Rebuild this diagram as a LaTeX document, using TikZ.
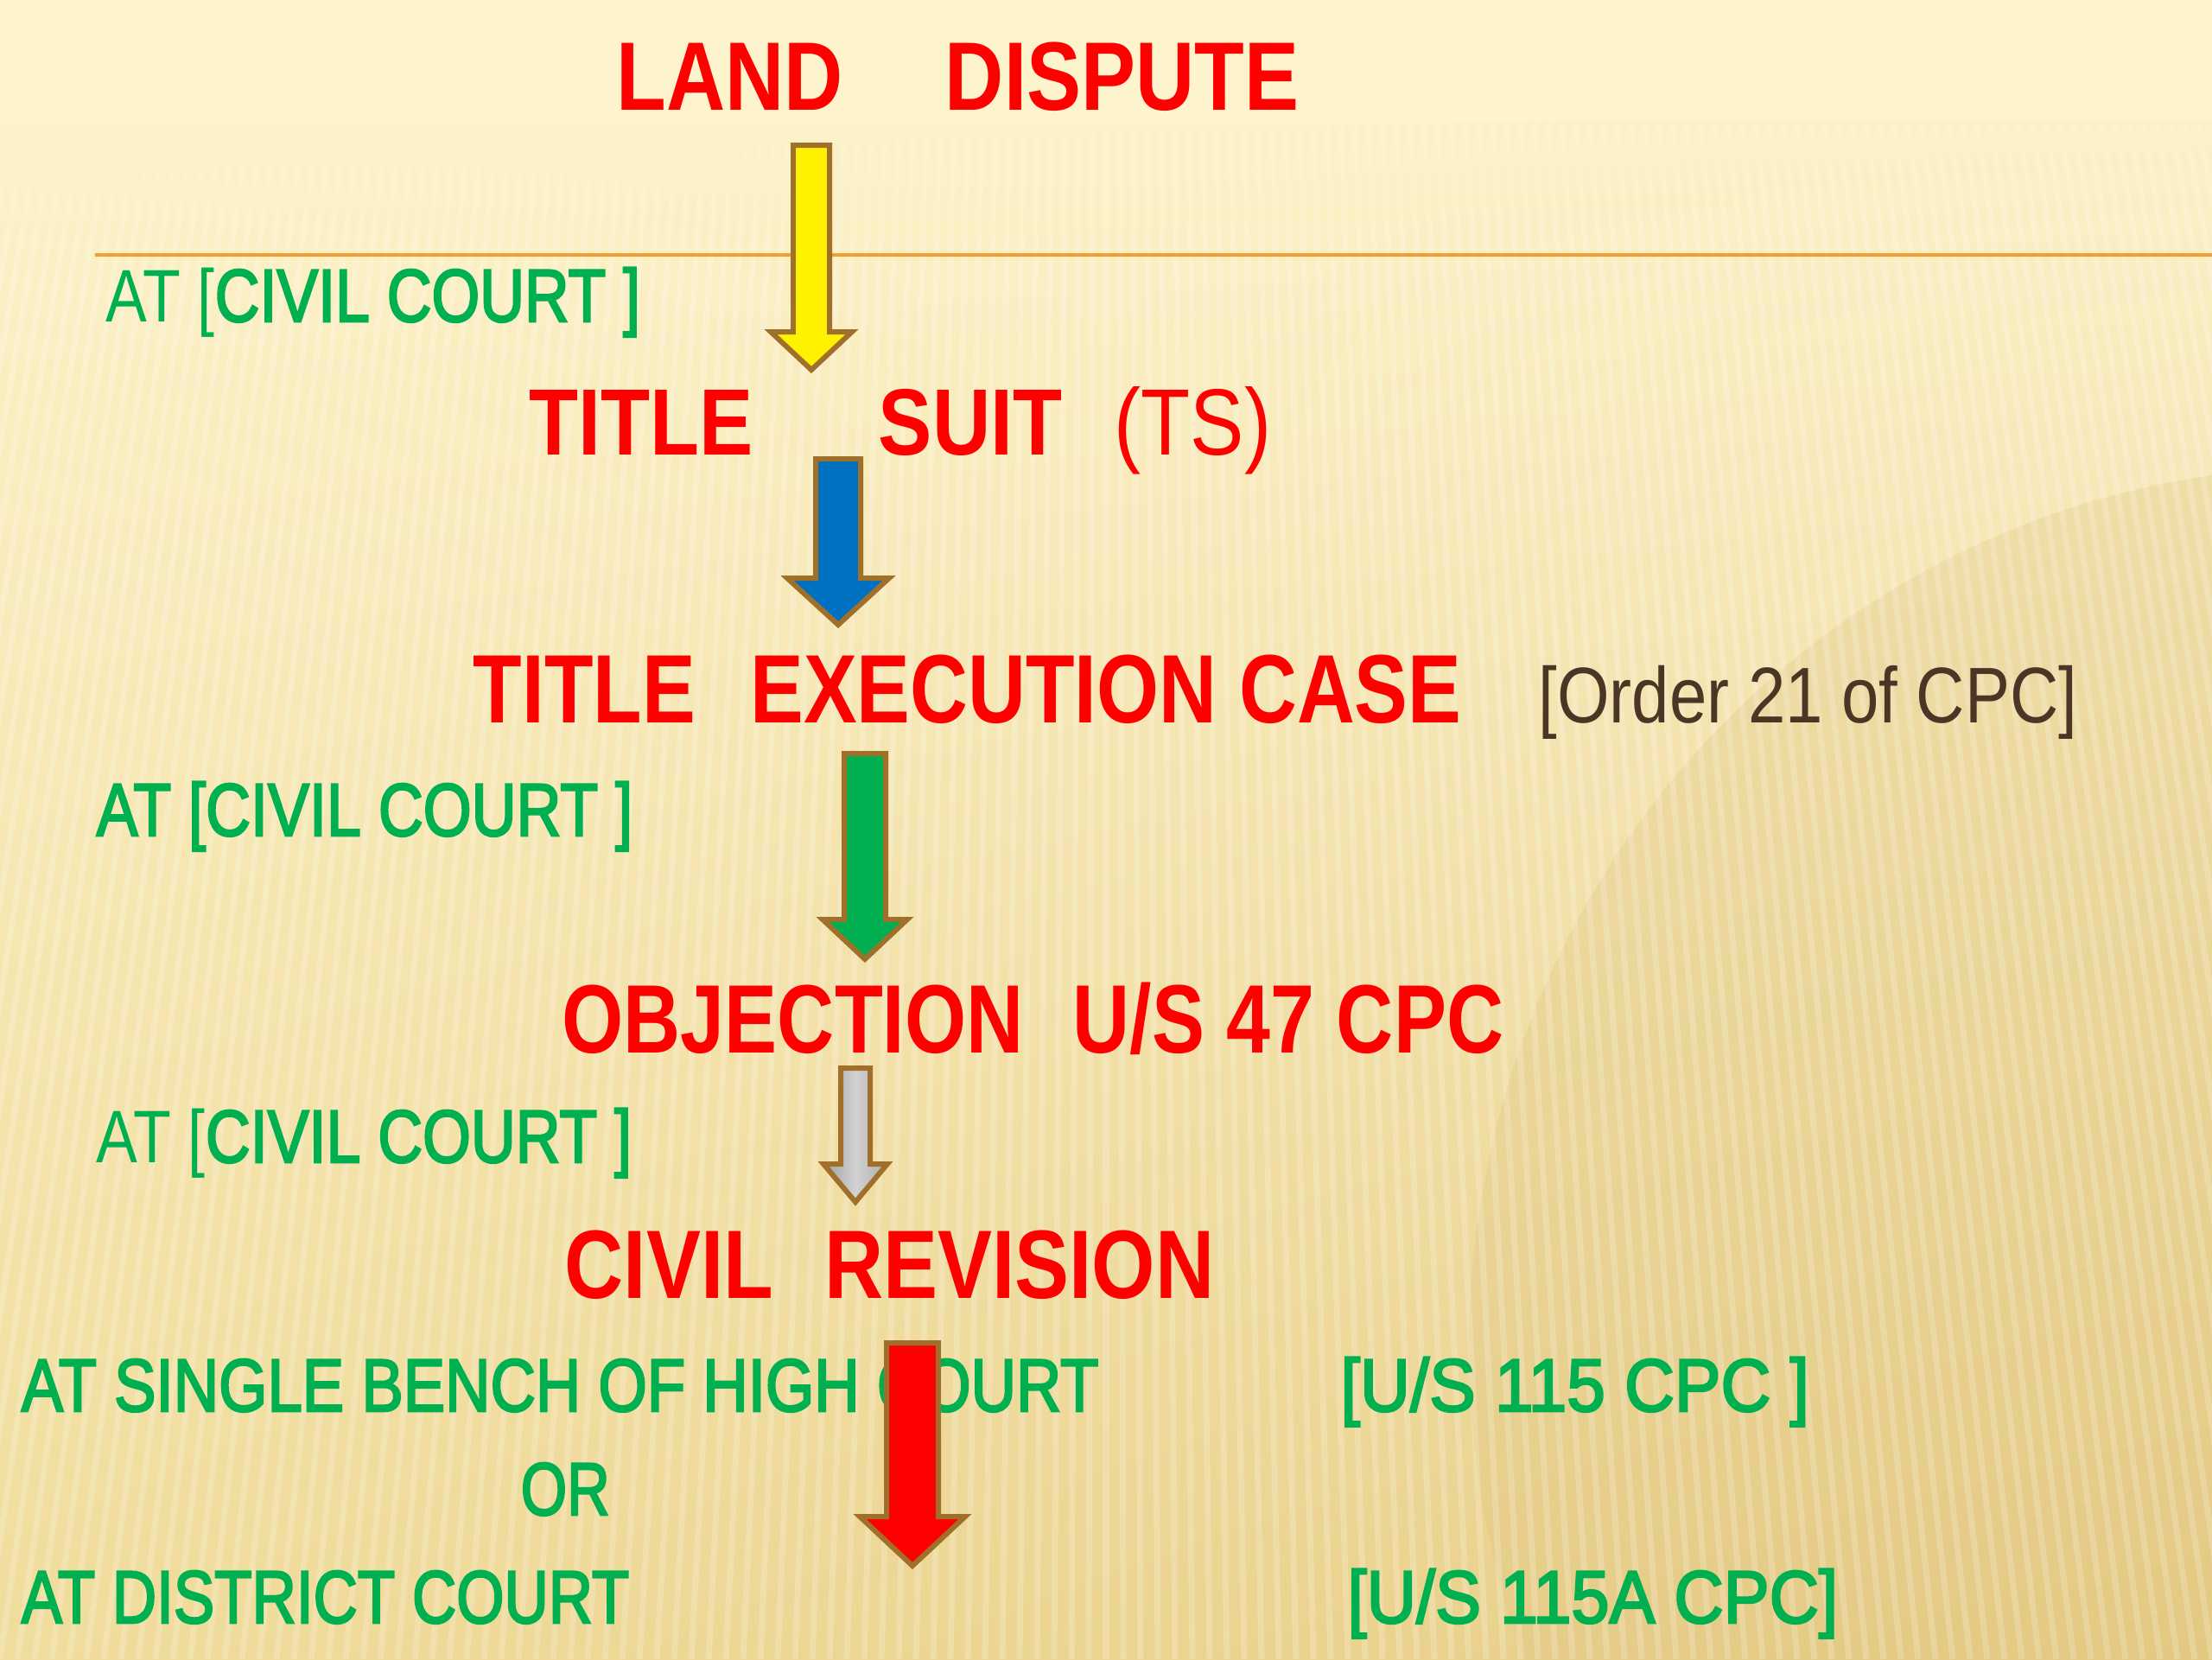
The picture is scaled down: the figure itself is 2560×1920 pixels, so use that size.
\documentclass[tikz,border=0pt]{standalone}
\usepackage{fontspec}
\setmainfont{Liberation Sans}
\newfontfamily\lblfont{Liberation Sans}[FakeBold=3]
\usepackage{graphicx}
\usetikzlibrary{calc, shadings}
\definecolor{bgtop}{HTML}{FDF3CC}
\definecolor{bglow}{HTML}{F0DC9C}
\definecolor{bgdark}{HTML}{E6CC86}
\definecolor{bgshade}{HTML}{DCC07A}
\definecolor{lblgreen}{HTML}{00B050}
\definecolor{edgebrown}{HTML}{A0702A}
\definecolor{ordbrown}{HTML}{4B3626}
\definecolor{rulecol}{HTML}{F0A030}
\definecolor{arrblue}{HTML}{0070C0}
% text squeezed to a given width (in cm), height kept
\newcommand{\fitw}[2]{\resizebox{#1cm}{\height}{#2}}
% block arrow: top, tip, shaft half width, head half width, head length, fill options
\newcommand{\blockarrow}[6]{%
  \draw[arrowedge, #6]
    ($(#1)+(-#3,0)$) -- ($(#1)+(#3,0)$) -- ($(#2)+(#3,-#5)$) -- ($(#2)+(#4,-#5)$)
    -- (#2) -- ($(#2)+(-#4,-#5)$) -- ($(#2)+(-#3,-#5)$) -- cycle;}

\begin{document}
\begin{tikzpicture}[x=0.01cm, y=-0.01cm,
    heading/.style={inner sep=0, anchor=base west, text=red, font=\bfseries\fontsize{32}{36}\selectfont},
    courtlbl/.style={inner sep=0, anchor=base west, text=lblgreen, font=\lblfont\fontsize{24.5}{28}\selectfont},
    orderlbl/.style={inner sep=0, anchor=base west, text=ordbrown, font=\fontsize{26}{30}\selectfont},
    arrowedge/.style={draw=edgebrown, line width=1.7pt, line join=miter},
    stripe/.style={white, line width=2pt, opacity=0.2}]
  \useasboundingbox (0,0) rectangle (2560,1920);

  % background
  \shade[upper left=bgtop, upper right=bgtop, lower left=bglow, lower right=bgdark]
    (0,0) rectangle (2560,1920);
  \fill[bgshade, opacity=0.25] (2700,1560) ellipse [x radius=1000, y radius=1020];
  \begin{scope}
    \clip (0,140) rectangle (2560,1920);
    \foreach \xb in {-700,-680,...,3300}
      \draw[stripe] ({\xb+(1280-\xb)*0.2},140) -- (\xb,1920);
  \end{scope}
  \fill[bgtop] (0,0) rectangle (2560,140);
  \foreach \k in {1,...,10}
    \fill[bgtop, opacity=0.1] (0,138) rectangle (2560,{140+\k*16});
  \draw[rulecol, line width=1.2pt] (110,295) -- (2560,295);

  % steps
  \node[heading] (land) at (713,127) {\fitw{7.89}{LAND\hspace{40pt}DISPUTE}};
  \node[courtlbl] (civ1) at (122,372) {\fitw{6.18}{{\rmfamily AT [}CIVIL COURT ]}};
  \node[heading, font=\bfseries\fontsize{31}{36}\selectfont] (suit) at (612,526)
    {\fitw{8.58}{TITLE\hspace{48pt}SUIT\hspace{20pt}{\mdseries(TS)}}};
  \node[heading] (exec) at (547,836) {\fitw{11.43}{TITLE\hspace{22pt}EXECUTION CASE}};
  \node[orderlbl] (ord21) at (1780,836) {\fitw{6.23}{[Order 21 of CPC]}};
  \node[courtlbl] (civ2) at (111,967) {\fitw{6.20}{AT [CIVIL COURT ]}};
  \node[heading] (obj) at (650,1218) {\fitw{10.89}{OBJECTION\hspace{20pt}U/S 47 CPC}};
  \node[courtlbl] (civ3) at (111,1345) {\fitw{6.19}{{\rmfamily AT [}CIVIL COURT ]}};
  \node[heading] (rev) at (653,1502) {\fitw{7.51}{CIVIL\hspace{20pt}REVISION}};
  \node[courtlbl] (high) at (24,1633) {\fitw{12.46}{AT SINGLE BENCH OF HIGH COURT}};
  \node[courtlbl] (us115) at (1551,1633) {\fitw{5.42}{[U/S 115 CPC ]}};
  \node[courtlbl] (or) at (602,1753) {\fitw{1.03}{OR}};
  \node[courtlbl] (dist) at (24,1878) {\fitw{7.03}{AT DISTRICT COURT}};
  \node[courtlbl] (us115a) at (1559,1878) {\fitw{5.67}{[U/S 115A CPC]}};

  % arrows
  \coordinate (a1top) at (939,168);  \coordinate (a1tip) at (939,428);
  \coordinate (a2top) at (970,531);  \coordinate (a2tip) at (970,723);
  \coordinate (a3top) at (1001,872); \coordinate (a3tip) at (1001,1110);
  \coordinate (a4top) at (990,1236); \coordinate (a4tip) at (990,1391);
  \coordinate (a5top) at (1056,1554); \coordinate (a5tip) at (1056,1812);
  \blockarrow{a1top}{a1tip}{21}{47}{44}{fill=yellow}
  \blockarrow{a2top}{a2tip}{26}{59}{54}{fill=arrblue}
  \blockarrow{a3top}{a3tip}{24}{49}{46}{fill=lblgreen}
  \blockarrow{a4top}{a4tip}{17}{37}{44}{left color=gray!75, right color=gray!65, middle color=gray!35}
  \blockarrow{a5top}{a5tip}{30}{61}{57}{fill=red}
\end{tikzpicture}
\end{document}
